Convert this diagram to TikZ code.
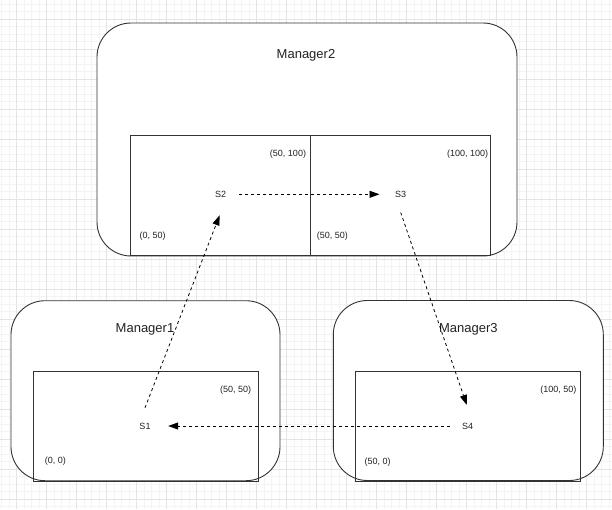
\documentclass[tikz,border=0pt]{standalone}
\usepackage{fontspec}
\setmainfont{Liberation Sans}
\usetikzlibrary{arrows.meta}
\definecolor{gridminor}{HTML}{F4F4F4}
\definecolor{gridmajor}{HTML}{E4E4E4}
\definecolor{strokec}{HTML}{333333}
\definecolor{textc}{HTML}{222222}
\tikzset{
  mgr/.style={draw=strokec, line width=0.9pt, fill=white, rounded corners=34pt, inner sep=0pt},
  cell/.style={draw=strokec, line width=0.9pt, inner sep=0pt},
  mgrlabel/.style={font=\fontsize{13}{15}\selectfont, text=textc, inner sep=0pt},
  coordlabel/.style={font=\fontsize{9}{11}\selectfont, text=textc, inner sep=0pt},
  sitenode/.style={font=\fontsize{9}{11}\selectfont, text=textc, inner sep=0pt, minimum width=36pt, minimum height=36pt},
  link/.style={draw=black, line width=0.8pt, dash pattern=on 3pt off 3pt, shorten >=3pt,
    -{Triangle[length=10pt, width=7pt]}}
}
\begin{document}
\begin{tikzpicture}[x=1pt, y=-1pt]
\useasboundingbox (0,0) rectangle (612,509);
% grid
\foreach \i in {0,...,81} \draw[gridminor, line width=0.6pt] ({1.7+7.5*\i},0) -- ({1.7+7.5*\i},509);
\foreach \i in {0,...,67} \draw[gridminor, line width=0.6pt] (0,{4+7.5*\i}) -- (612,{4+7.5*\i});
\foreach \i in {0,...,19} \draw[gridmajor, line width=0.7pt] ({16.7+30*\i},0) -- ({16.7+30*\i},509);
\foreach \i in {0,...,16} \draw[gridmajor, line width=0.7pt] (0,{19+30*\i}) -- (612,{19+30*\i});

% managers
\node[mgr, minimum width=420pt, minimum height=233pt] (M2) at (307,139.5) {};
\node[mgr, minimum width=269pt, minimum height=180pt] (M1) at (145.5,390.7) {};
\node[mgr, minimum width=270pt, minimum height=180pt] (M3) at (468.3,390.5) {};

% cells
\node[cell, minimum width=180pt, minimum height=120pt] (C2) at (220.3,195.7) {};
\node[cell, minimum width=180pt, minimum height=120pt] (C3) at (400.5,195.7) {};
\node[cell, minimum width=225pt, minimum height=109.3pt] (C1) at (145.8,426.3) {};
\node[cell, minimum width=225pt, minimum height=109.3pt] (C4) at (468.2,426.3) {};

% manager labels
\node[mgrlabel] (L2) at (306,55) {Manager2};
\node[mgrlabel] (L1) at (145,329.5) {Manager1};
\node[mgrlabel] (L3) at (468.3,329.5) {Manager3};

% coordinate labels
\node[coordlabel] (k1) at (288,154) {(50, 100)};
\node[coordlabel] (k2) at (467.7,154) {(100, 100)};
\node[coordlabel] (k3) at (152.7,236) {(0, 50)};
\node[coordlabel] (k4) at (332.3,236) {(50, 50)};
\node[coordlabel] (k5) at (235.7,390) {(50, 50)};
\node[coordlabel] (k6) at (55.3,461) {(0, 0)};
\node[coordlabel] (k7) at (558.3,390) {(100, 50)};
\node[coordlabel] (k8) at (377.7,462.3) {(50, 0)};

% sites
\node[sitenode] (S1) at (145,426) {S1};
\node[sitenode] (S2) at (220.7,194.3) {S2};
\node[sitenode] (S3) at (400.7,194.3) {S3};
\node[sitenode] (S4) at (467.7,426) {S4};

% links
\draw[link] (S1.north) -- (S2.south);
\draw[link] (S2.east) -- (S3.west);
\draw[link] (S3.south) -- (S4.north);
\draw[link, shorten >=5pt] (S4.west) -- (S1.east);
\end{tikzpicture}
\end{document}
